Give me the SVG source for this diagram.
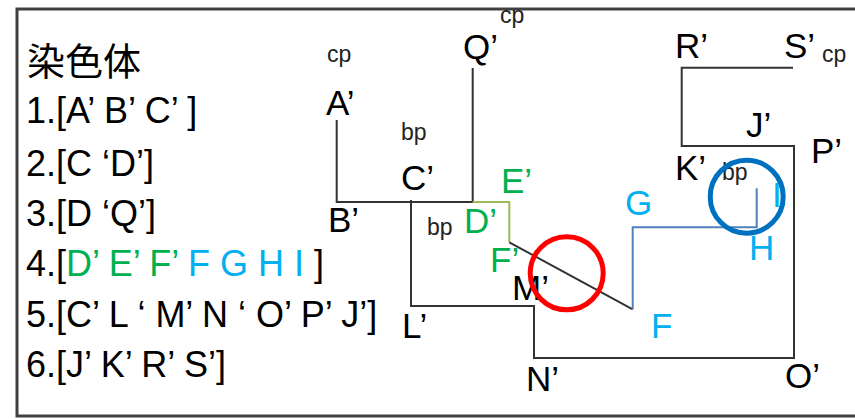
<svg xmlns="http://www.w3.org/2000/svg" width="855" height="419" viewBox="0 0 855 419">
<style>
text{font-family:"Liberation Sans",Arial,"Noto Sans CJK SC",sans-serif;fill:#000}
.l{font-size:36px}
.n{font-size:35px}
.s{font-size:23px;fill:#222}
.g{fill:#00b050}
.b{fill:#00b0f0}
.k{fill:none;stroke:#333;stroke-width:2}
.gl{fill:none;stroke:#9bbb59;stroke-width:2}
.bl{fill:none;stroke:#4f81bd;stroke-width:2}
</style>
<rect x="17" y="9" width="900" height="407" fill="#fff" stroke="#404040" stroke-width="3"/>
<g id="legend">
<text x="27" y="75" style="font-family:'Noto Sans CJK SC',sans-serif;font-size:38px">染色体</text>
<text class="l" x="26" y="123">1.[A’ B’ C’ ]</text>
<text class="l" x="26" y="176">2.[C ‘D’]</text>
<text class="l" x="26" y="226">3.[D ‘Q’]</text>
<text class="l" x="26" y="276">4.[<tspan class="g">D’ E’ F’ </tspan><tspan class="b">F G H I </tspan>]</text>
<text class="l" x="26" y="327">5.[C’ L ‘ M’ N ‘ O’ P’ J’]</text>
<text class="l" x="26" y="377">6.[J’ K’ R’ S’]</text>
</g>
<g id="connectors">
<polyline class="k" points="336.7,120 336.7,202 472.7,202 472.7,68"/>
<polyline class="k" points="411,200 411,306 534,306 534,358 794,358 794,146 681.7,146 681.7,67.7 793,67.7"/>
<polyline class="gl" points="472.7,202 509.3,202 509.3,242.3"/>
<line class="k" x1="509.3" y1="242.3" x2="632.7" y2="309.3"/>
<polyline class="bl" points="632.7,309.3 632.7,227.3 756.7,227.3 756.7,188.3"/>
</g>
<g id="A"><text class="s" x="327" y="62">cp</text><text class="n" x="326" y="115">A’</text></g>
<g id="Q"><text class="n" x="463" y="59">Q’</text><text class="s" x="500" y="23">cp</text></g>
<g id="C"><text class="s" x="401" y="140">bp</text><text class="n" x="401" y="190">C’</text></g>
<g id="B"><text class="n" x="328" y="232">B’</text></g>
<g id="bp2"><text class="s" x="427" y="235">bp</text></g>
<g id="D"><text class="n g" x="464" y="233">D’</text></g>
<g id="E"><text class="n g" x="501" y="193">E’</text></g>
<g id="F1"><text class="n g" x="490" y="272">F’</text></g>
<g id="M"><text class="n" x="512" y="300">M’</text></g>
<g id="L"><text class="n" x="402" y="338">L’</text></g>
<g id="N"><text class="n" x="526" y="391">N’</text></g>
<g id="O"><text class="n" x="785" y="388">O’</text></g>
<g id="F"><text class="n b" x="651" y="338">F</text></g>
<g id="G"><text class="n b" x="625" y="215">G</text></g>
<g id="H"><text class="n b" x="749" y="260">H</text></g>
<g id="I"><text class="n b" x="772" y="207">I</text></g>
<g id="K"><text class="n" x="675" y="180">K’</text><text class="s" x="722" y="180">bp</text></g>
<g id="J"><text class="n" x="746" y="137">J’</text></g>
<g id="P"><text class="n" x="811" y="163">P’</text></g>
<g id="R"><text class="n" x="675" y="58">R’</text></g>
<g id="S"><text class="n" x="784" y="58">S’</text><text class="s" x="822" y="62">cp</text></g>
<g id="circles">
<circle cx="566.7" cy="273.3" r="36.5" fill="none" stroke="#ff0000" stroke-width="5"/>
<circle cx="746.7" cy="196.7" r="36.5" fill="none" stroke="#0070c0" stroke-width="5"/>
</g>
</svg>
